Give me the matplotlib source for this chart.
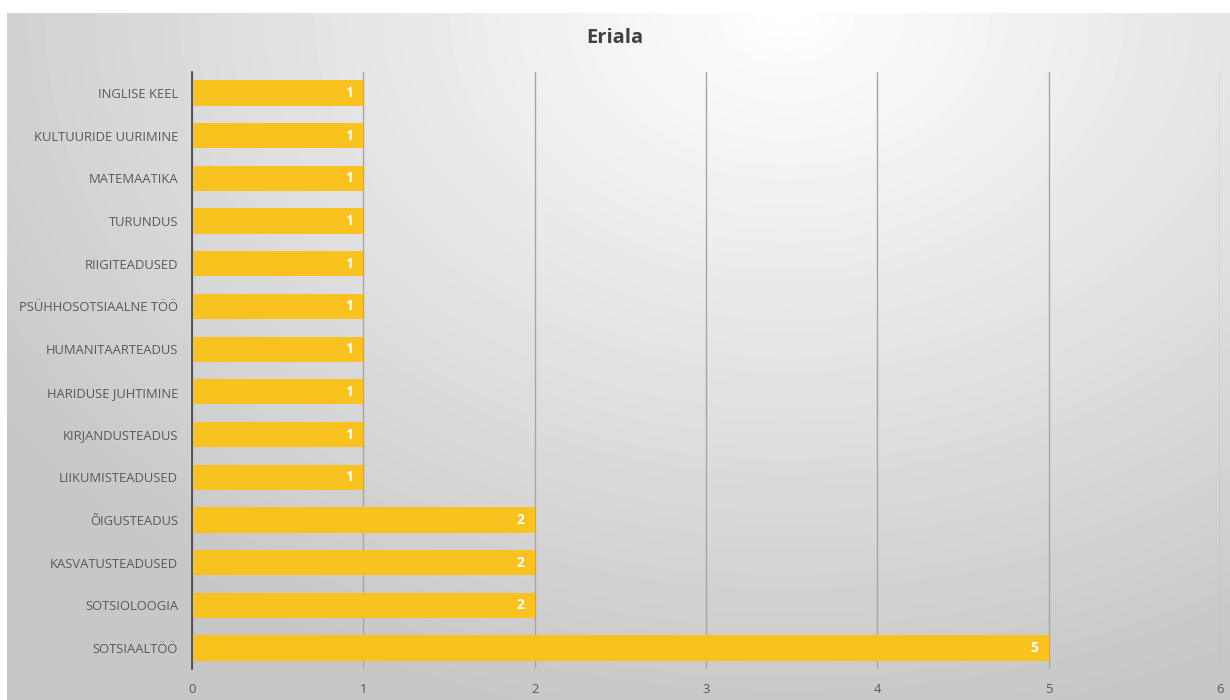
import matplotlib.pyplot as plt
import numpy as np

plt.rcParams['font.family'] = ['Open Sans', 'DejaVu Sans']

categories = ["SOTSIAALTÖÖ", "SOTSIOLOOGIA", "KASVATUSTEADUSED", "ÕIGUSTEADUS",
              "LIIKUMISTEADUSED", "KIRJANDUSTEADUS", "HARIDUSE JUHTIMINE",
              "HUMANITAARTEADUS", "PSÜHHOSOTSIAALNE TÖÖ", "RIIGITEADUSED",
              "TURUNDUS", "MATEMAATIKA", "KULTUURIDE UURIMINE", "INGLISE KEEL"]
values = [5, 2, 2, 2, 1, 1, 1, 1, 1, 1, 1, 1, 1, 1]
x_ticks = [0, 1, 2, 3, 4, 5, 6]

fig = plt.figure(figsize=(12.3, 7), dpi=100)
fig.patch.set_facecolor("white")

# radial gradient background (chart area)
bg = fig.add_axes([7 / 1230, 0, 1 - 7 / 1230, 1 - 13 / 700])
bg.set_axis_off()
yy, xx = np.mgrid[0:687, 0:1223]
d = np.sqrt(((xx - 780) / 950.0) ** 2 + ((yy - 0) / 720.0) ** 2)
shade = np.clip(1.0 - 0.22 * d, 0.78, 1.0)
bg.imshow(shade, cmap="gray", vmin=0, vmax=1, aspect="auto", interpolation="bilinear")

ax = fig.add_axes([192 / 1230, 1 - 669.4 / 700, 1028 / 1230, 597.8 / 700])
ax.patch.set_alpha(0)
y = np.arange(len(categories))
bars = ax.barh(y, values, height=0.59, color="#F9C21F", zorder=3)
for b, v in zip(bars, values):
    ax.text(v - 0.06, b.get_y() + b.get_height() / 2, str(v), ha="right", va="center",
            color="white", fontsize=10, fontweight="bold", zorder=4)

ax.set_xlim(0, 6)
ax.set_ylim(-0.5, len(categories) - 0.5)
ax.set_xticks(x_ticks)
ax.set_yticks(y)
ax.set_yticklabels(categories)
ax.tick_params(axis="both", length=0, labelcolor="#595959", labelsize=9.4)
ax.tick_params(axis="x", pad=10)
ax.tick_params(axis="y", pad=10)
ax.grid(axis="x", color="#a6a6a6", linewidth=1, zorder=1)
for s in ["top", "right", "bottom"]:
    ax.spines[s].set_visible(False)
ax.spines["left"].set_color("#404040")
ax.spines["left"].set_linewidth(1.2)
ax.spines["left"].set_zorder(5)

fig.text(0.5, 1 - 38 / 700, "Eriala", ha="center", va="center", fontsize=14.5,
         fontweight="bold", color="#404040")

fig.savefig("out.png", dpi=100)
